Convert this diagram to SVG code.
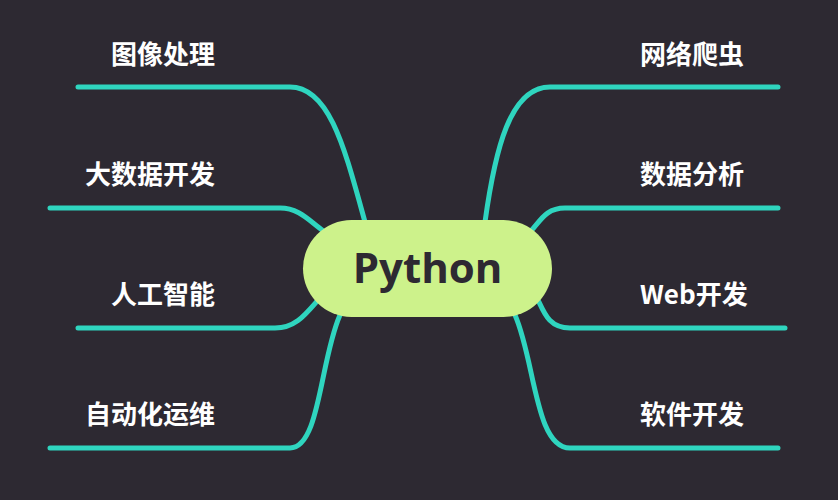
<svg xmlns="http://www.w3.org/2000/svg" width="838" height="500" viewBox="0 0 838 500">
<style>
.c{fill:none;stroke:#2fd5bf;stroke-width:5;stroke-linecap:round}
.t{font-family:"Noto Sans CJK SC","Liberation Sans",sans-serif;font-weight:bold;font-size:26px;fill:#ffffff}
</style>
<rect width="838" height="500" fill="#2d2932"/>
<g id="connectors">
<path class="c" d="M78 87 H290 C330 87 345 150 365 222"/>
<path class="c" d="M50 208 H280 C300 208 310 222 325 232"/>
<path class="c" d="M78 328 H275 C295 328 305 315 318 300"/>
<path class="c" d="M50 448 H290 C320 448 320 360 340 315"/>
<path class="c" d="M778 87 H550 C510 87 495 150 485 222"/>
<path class="c" d="M778 208 H565 C545 208 540 222 530 232"/>
<path class="c" d="M785 328 H570 C550 328 545 315 538 300"/>
<path class="c" d="M778 448 H570 C535 448 535 360 515 315"/>
</g>
<g id="python"><rect x="303" y="220" width="249" height="97" rx="48.5" fill="#cdf28b"/><text x="427.5" y="283" text-anchor="middle" font-family="Open Sans,Liberation Sans,sans-serif" font-weight="bold" font-size="42" fill="#2d2932">Python</text></g>
<g id="n1"><text class="t" x="215" y="64" text-anchor="end">图像处理</text></g>
<g id="n2"><text class="t" x="215" y="184" text-anchor="end">大数据开发</text></g>
<g id="n3"><text class="t" x="215" y="304" text-anchor="end">人工智能</text></g>
<g id="n4"><text class="t" x="215" y="424" text-anchor="end">自动化运维</text></g>
<g id="n5"><text class="t" x="640" y="64">网络爬虫</text></g>
<g id="n6"><text class="t" x="640" y="184">数据分析</text></g>
<g id="n7"><text class="t" x="640" y="304">Web开发</text></g>
<g id="n8"><text class="t" x="640" y="424">软件开发</text></g>
</svg>
